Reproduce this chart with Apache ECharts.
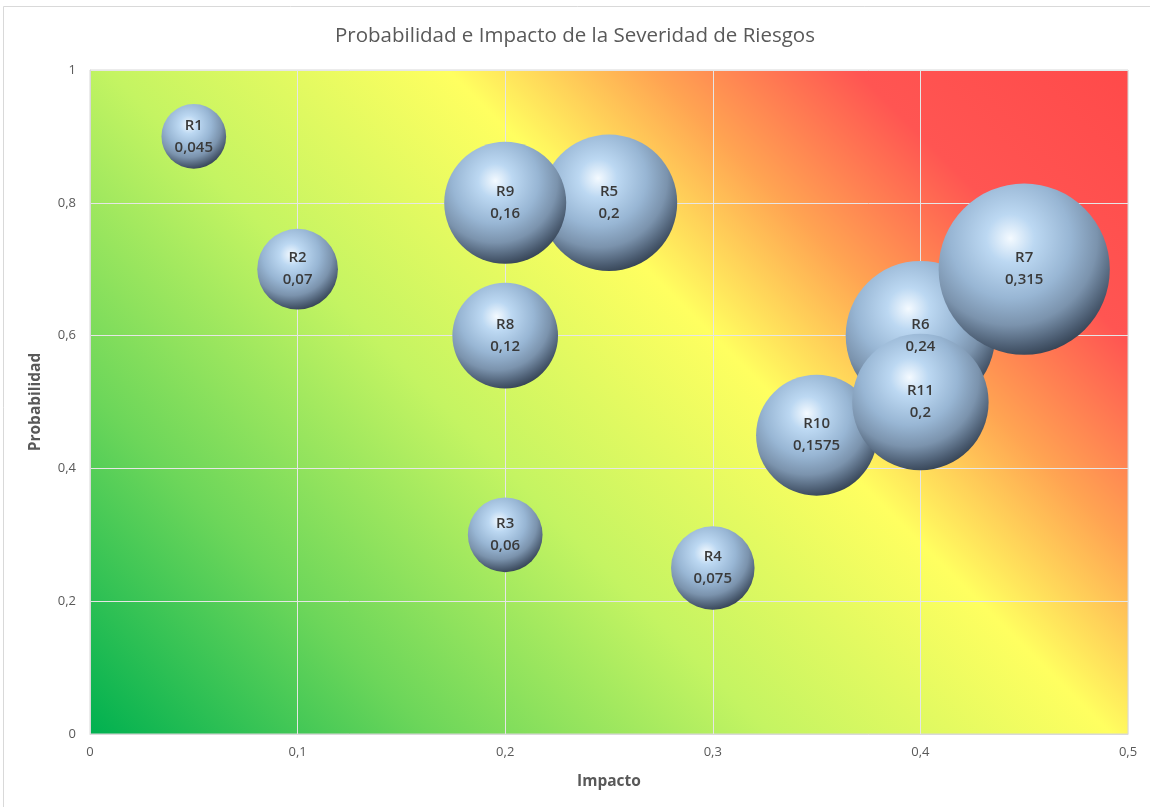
<!DOCTYPE html>
<html><head><meta charset="utf-8">
<script src="https://cdn.jsdelivr.net/npm/echarts@6/dist/echarts.min.js"></script>
<style>html,body{margin:0;padding:0;background:#fff}#c{width:1150px;height:807px}</style>
</head><body><div id="c"></div>
<script>
const names = ['R1','R2','R3','R4','R5','R6','R7','R8','R9','R10','R11'];
const impacto = [0.05,0.1,0.2,0.3,0.25,0.4,0.45,0.2,0.2,0.35,0.4];
const probabilidad = [0.9,0.7,0.3,0.25,0.8,0.6,0.7,0.6,0.8,0.45,0.5];
const severidad = [0.045,0.07,0.06,0.075,0.2,0.24,0.315,0.12,0.16,0.1575,0.2];
const xTicks = [0,0.1,0.2,0.3,0.4,0.5];
const yTicks = [0,0.2,0.4,0.6,0.8,1];

const G = {left:90, top:70, width:1038, height:664};
const fmt = v => String(v).replace('.', ',');
const chart = echarts.init(document.getElementById('c'));
// 45deg gradient in pixel space
const x0 = G.left, y0 = G.top + G.height;
const d = (G.width + G.height) / 2;
const bg = new echarts.graphic.LinearGradient(x0, y0, x0 + d, y0 - d, [
  {offset:0, color:'#00b050'},
  {offset:0.2, color:'#6cd65a'},
  {offset:0.4, color:'#c4f462'},
  {offset:0.6, color:'#ffff60'},
  {offset:0.72, color:'#ffa452'},
  {offset:0.84, color:'#ff5552'},
  {offset:1, color:'#ff4a4a'}
], true);
const sphere = new echarts.graphic.RadialGradient(0.42, 0.32, 0.78, [
  {offset:0, color:'#f4faff'},
  {offset:0.18, color:'#bcd8f2'},
  {offset:0.45, color:'#98b6d4'},
  {offset:0.65, color:'#7b93ad'},
  {offset:0.82, color:'#4a5b70'},
  {offset:1, color:'#1a2430'}
]);
const data = names.map((n,i)=>[impacto[i], probabilidad[i], severidad[i], n]);
chart.setOption({
  animation:false,
  backgroundColor:'#fff',
  title:{text:'Probabilidad e Impacto de la Severidad de Riesgos', left:'center', top:21,
    textStyle:{fontFamily:'Open Sans', fontSize:20.5, fontWeight:'normal', color:'#595959'}},
  graphic:[{type:'rect', shape:{x:3.5,y:6.5,width:1160,height:820}, style:{fill:null, stroke:'#d9d9d9', lineWidth:1}, z:-1}],
  grid:{left:G.left, top:G.top, width:G.width, height:G.height, show:true, backgroundColor:bg, borderColor:'#d9d9d9', borderWidth:1},
  xAxis:{type:'value', min:0, max:0.5, interval:0.1, name:'Impacto', nameLocation:'middle', nameGap:40,
    nameTextStyle:{fontFamily:'Open Sans', fontSize:15.5, fontWeight:'bold', color:'#595959'},
    axisLine:{show:true, lineStyle:{color:'#d9d9d9'}}, axisTick:{show:false},
    axisLabel:{fontFamily:'Open Sans', fontSize:13, color:'#595959', margin:12, formatter:v=>fmt(+v.toFixed(1))},
    splitLine:{show:true, lineStyle:{color:'#e6e6e6', width:1}}},
  yAxis:{type:'value', min:0, max:1, interval:0.2, name:'Probabilidad', nameLocation:'middle', nameGap:46, nameRotate:90,
    nameTextStyle:{fontFamily:'Open Sans', fontSize:15.5, fontWeight:'bold', color:'#595959'},
    axisLine:{show:true, lineStyle:{color:'#d9d9d9'}}, axisTick:{show:false},
    axisLabel:{fontFamily:'Open Sans', fontSize:13, color:'#595959', margin:14, formatter:v=>fmt(+v.toFixed(1))},
    splitLine:{show:true, lineStyle:{color:'#e6e6e6', width:1}}},
  series:[{type:'scatter', data:data,
    symbolSize: v => 305*Math.sqrt(v[2]),
    itemStyle:{color:sphere, opacity:1},
    label:{show:true, position:'inside', formatter:p=>p.data[3]+'\n'+fmt(p.data[2]),
      fontFamily:'Open Sans', fontSize:15, fontWeight:600, color:'#3a3a3a', lineHeight:22},
    emphasis:{disabled:true}
  }]
});
</script></body></html>
